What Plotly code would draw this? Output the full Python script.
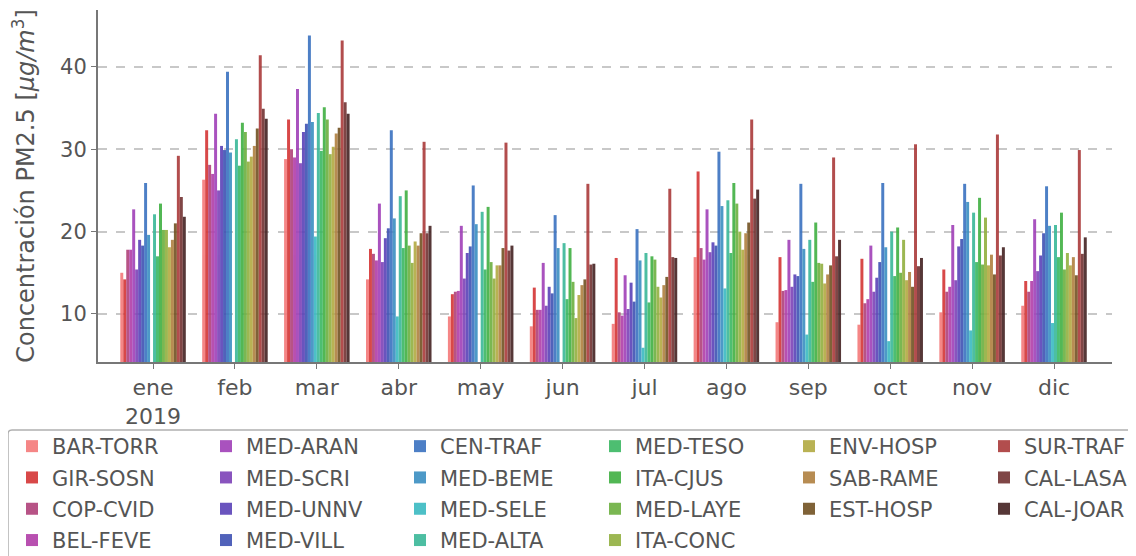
import plotly.graph_objects as go

months = ['ene<br>2019', 'feb', 'mar', 'abr', 'may', 'jun', 'jul', 'ago', 'sep', 'oct', 'nov', 'dic']

stations = ['BAR-TORR', 'GIR-SOSN', 'COP-CVID', 'BEL-FEVE', 'MED-ARAN', 'MED-SCRI',
            'MED-UNNV', 'MED-VILL', 'CEN-TRAF', 'MED-BEME', 'MED-SELE', 'MED-ALTA',
            'MED-TESO', 'ITA-CJUS', 'MED-LAYE', 'ITA-CONC', 'ENV-HOSP', 'SAB-RAME',
            'EST-HOSP', 'SUR-TRAF', 'CAL-LASA', 'CAL-JOAR']

colors = ['#f47a7a', '#d43535', '#b0417a', '#b13ea8', '#a040b8', '#7d42b8',
          '#5a42b8', '#3f52b3', '#3a72c0', '#3a8fc2', '#3abac2', '#3ab898',
          '#3ab862', '#40b042', '#6cb040', '#92b040', '#b2aa42', '#b08040',
          '#725222', '#aa3a3a', '#723232', '#442222']

# monthly mean PM2.5 per station (None = no data)
bar_torr = [15.0, 26.3, 28.8, 14.2, 9.7, 8.5, 8.8, 16.9, 9.0, 8.7, 10.2, 11.0]
gir_sosn = [14.2, 32.3, 33.6, 17.9, 12.4, 13.2, 16.8, 27.3, 16.9, 16.7, 15.4, 14.0]
cop_cvid = [17.8, 28.1, 30.0, 17.3, 12.7, 10.5, 10.2, 18.0, 12.8, 11.3, 12.7, 12.7]
bel_feve = [17.8, 27.0, 29.0, 16.5, 12.8, 10.5, 9.8, 16.6, 12.9, 11.8, 13.3, 14.0]
med_aran = [22.7, 34.3, 37.3, 23.4, 20.7, 16.2, 14.7, 22.7, 19.0, 18.3, 20.8, 21.5]
med_scri = [15.4, 25.0, 28.3, 16.3, 14.3, 11.0, 10.6, 17.5, 13.3, 12.7, 14.1, 15.2]
med_unnv = [19.0, 30.4, 32.1, 19.2, 17.4, 13.3, 13.8, 18.7, 14.8, 14.4, 18.2, 17.1]
med_vill = [18.3, 29.9, 33.1, 20.4, 18.2, 12.5, 11.5, 18.3, 14.6, 16.3, 19.1, 19.8]
cen_traf = [25.9, 39.4, 43.8, 32.3, 25.6, 22.0, 20.3, 29.7, 25.8, 25.9, 25.8, 25.5]
med_beme = [19.6, 29.6, 33.3, 21.6, 20.9, 18.0, 16.5, 23.1, 17.9, 18.1, 23.6, 20.7]
med_sele = [None, None, 19.4, 9.7, None, None, 5.9, 13.1, 7.5, 6.7, 8.0, 8.9]
med_alta = [22.1, 31.2, 34.4, 24.3, 22.4, 18.6, 17.4, 23.8, 19.0, 20.0, 22.3, 20.8]
med_teso = [17.0, 28.0, 29.8, 18.0, 15.4, 11.8, 11.4, 17.4, 13.9, 14.6, 16.3, 16.9]
ita_cjus = [23.4, 33.2, 35.1, 25.0, 23.0, 18.0, 17.0, 25.9, 21.1, 20.5, 24.1, 22.3]
med_laye = [20.2, 32.1, 33.6, 18.3, 16.3, 13.9, 16.6, 23.4, 16.2, 15.0, 16.0, 15.4]
ita_conc = [20.2, 28.5, 29.4, 16.2, 14.3, 9.5, 13.3, 20.0, 16.1, 19.0, 21.7, 17.4]
env_hosp = [18.1, 29.1, 30.3, 18.8, 15.9, 12.3, 12.0, 17.8, 13.7, 14.1, 15.9, 15.9]
sab_rame = [19.0, 30.4, 31.9, 18.3, 15.9, 13.5, 13.5, 19.8, 14.8, 15.1, 17.2, 16.9]
est_hosp = [21.0, 32.5, 32.6, 19.8, 18.0, 14.2, 14.5, 21.1, 15.9, 13.3, 14.8, 14.7]
sur_traf = [29.2, 41.4, 43.2, 30.9, 30.8, 25.8, 25.2, 33.6, 29.0, 30.6, 31.8, 29.9]
cal_lasa = [24.2, 34.9, 35.7, 19.8, 17.7, 16.0, 16.9, 24.0, 17.0, 15.8, 17.1, 17.3]
cal_joar = [21.8, 33.7, 34.3, 20.7, 18.3, 16.1, 16.8, 25.1, 19.0, 16.8, 18.1, 19.3]

series = [bar_torr, gir_sosn, cop_cvid, bel_feve, med_aran, med_scri, med_unnv,
          med_vill, cen_traf, med_beme, med_sele, med_alta, med_teso, ita_cjus,
          med_laye, ita_conc, env_hosp, sab_rame, est_hosp, sur_traf, cal_lasa,
          cal_joar]

# legend: 6 columns filled column-wise (4,4,4,4,3,3) -> one vertical legend per column
col_sizes = [4, 4, 4, 4, 3, 3]
col_text_px = [53, 247, 441, 636, 830, 1025]

# page body has an 8px margin, so the figure is drawn 8px in from the window edge;
# positions below are in window pixels
plot_l, plot_w = 98, 1014
plot_b, plot_h = 362, 352

col_of = []
for c, n in enumerate(col_sizes):
    col_of += [c] * n

grey = '#555555'
fig = go.Figure()
for i, (name, vals, col) in enumerate(zip(stations, series, colors)):
    c = col_of[i]
    lg = 'legend' if c == 0 else 'legend%d' % (c + 1)
    fig.add_trace(go.Bar(x=months, y=vals, name=name, marker_color=col,
                         marker_line_width=0, opacity=0.9,
                         legend=lg, legendgroup=name))

legend_y = (plot_b - 426) / plot_h
legends = {}
for c, tx in enumerate(col_text_px):
    key = 'legend' if c == 0 else 'legend%d' % (c + 1)
    legends[key] = dict(orientation='v', x=(tx - 41 - plot_l) / plot_w, y=legend_y,
                        xanchor='left', yanchor='top', bgcolor='rgba(0,0,0,0)',
                        borderwidth=0, tracegroupgap=1,
                        font=dict(size=21, color=grey))

fig.update_layout(
    width=1128, height=548,
    margin=dict(l=90, r=24, t=2, b=194, autoexpand=False),
    plot_bgcolor='white', paper_bgcolor='white',
    font=dict(family='DejaVu Sans', size=21, color=grey),
    barmode='group', bargap=0.2, bargroupgap=0,
    showlegend=True,
    **legends,
)

# legend frame (rounded top-left corner, runs off the right and bottom edges)
fx0 = (8 - plot_l) / plot_w
fx1 = (1150 - plot_l) / plot_w
fy0 = (plot_b - 570) / plot_h
fy1 = (plot_b - 430) / plot_h
rx = 4 / plot_w
ry = 4 / plot_h
fig.add_shape(type='path', xref='paper', yref='paper',
              path=f'M {fx0},{fy0} L {fx0},{fy1 - ry} Q {fx0},{fy1} {fx0 + rx},{fy1} '
                   f'L {fx1},{fy1} L {fx1},{fy0} Z',
              line=dict(color='#b0b0b0', width=1.5), fillcolor='white', layer='below')

fig.update_xaxes(range=[-0.672, 11.708], showline=True, linecolor='#777777', linewidth=2,
                 ticks='outside', ticklen=5, tickcolor='#777777',
                 tickfont=dict(size=22), showgrid=False)
fig.update_yaxes(range=[4.17, 46.9], showline=True, linecolor='#777777', linewidth=2,
                 ticks='outside', ticklen=5, tickcolor='#777777',
                 tickvals=[10, 20, 30, 40], tickfont=dict(size=21),
                 showgrid=True, gridcolor='#c8c8c8', griddash='dash', gridwidth=1.5,
                 zeroline=False,
                 title=dict(text='Concentración PM2.5 [<i>μg/m</i><sup>3</sup>]',
                            font=dict(size=24), standoff=20))

fig.write_html("out.html")
